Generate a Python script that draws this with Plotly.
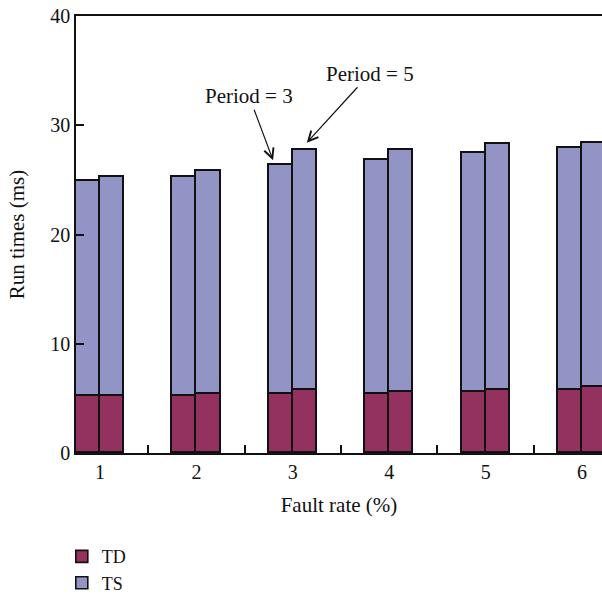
import plotly.graph_objects as go

fault_rates = [1, 2, 3, 4, 5, 6]
td_period3 = [5.2, 5.2, 5.4, 5.4, 5.6, 5.8]
ts_period3 = [19.7, 20.1, 21.0, 21.4, 21.9, 22.1]
td_period5 = [5.2, 5.4, 5.8, 5.6, 5.8, 6.0]
ts_period5 = [20.1, 20.4, 21.9, 22.1, 22.45, 22.4]
y_ticks = [0, 10, 20, 30, 40]

TD_COLOR = "#93325F"
TS_COLOR = "#9394C6"
FONT = "Liberation Serif"
BAR_W = 0.25

x_p3 = [c - BAR_W / 2 for c in fault_rates]
x_p5 = [c + BAR_W / 2 for c in fault_rates]

line = dict(color="#111111", width=1.6)
fig = go.Figure()
fig.add_trace(go.Bar(x=x_p3, y=td_period3, width=BAR_W, name="TD", legendgroup="TD",
                     marker=dict(color=TD_COLOR, line=line)))
fig.add_trace(go.Bar(x=x_p5, y=td_period5, width=BAR_W, name="TD", legendgroup="TD",
                     showlegend=False, marker=dict(color=TD_COLOR, line=line)))
fig.add_trace(go.Bar(x=x_p3, y=ts_period3, width=BAR_W, name="TS", legendgroup="TS",
                     marker=dict(color=TS_COLOR, line=line)))
fig.add_trace(go.Bar(x=x_p5, y=ts_period5, width=BAR_W, name="TS", legendgroup="TS",
                     showlegend=False, marker=dict(color=TS_COLOR, line=line)))

tot3 = td_period3[2] + ts_period3[2]
tot5 = td_period5[2] + ts_period5[2]
fig.add_annotation(x=x_p3[2] - 0.08, y=tot3 + 0.4, text="Period = 3", showarrow=True,
                   ax=-24, ay=-64, arrowhead=5, arrowsize=1.6, arrowwidth=1.2,
                   arrowcolor="#111111", font=dict(family=FONT, size=21, color="#111111"))
fig.add_annotation(x=x_p5[2] + 0.02, y=tot5 + 0.7, text="Period = 5", showarrow=True,
                   ax=63, ay=-69, arrowhead=5, arrowsize=1.6, arrowwidth=1.2,
                   arrowcolor="#111111", font=dict(family=FONT, size=21, color="#111111"))

fig.update_layout(
    width=602, height=594,
    margin=dict(l=76, r=0, t=16, b=141, autoexpand=False),
    barmode="stack",
    bargap=0,
    plot_bgcolor="white", paper_bgcolor="white",
    font=dict(family=FONT, size=20, color="#111111"),
    showlegend=True,
    legend=dict(x=-0.027, xanchor="left", y=-0.195, yanchor="top",
                font=dict(family=FONT, size=18), tracegroupgap=0,
                bgcolor="rgba(0,0,0,0)"),
    xaxis=dict(range=[0.751, 6.207], tickmode="array", tickvals=fault_rates,
               ticktext=[str(v) for v in fault_rates], ticks="", showgrid=False,
               showline=True, linecolor="#111111", linewidth=1.5, mirror=True,
               zeroline=False, tickfont=dict(family=FONT, size=20),
               minor=dict(tickmode="array", tickvals=[1.5, 2.5, 3.5, 4.5, 5.5],
                          ticks="inside", ticklen=8, tickwidth=1.5, tickcolor="#111111"),
               title=dict(text="Fault rate (%)", font=dict(family=FONT, size=21), standoff=16)),
    yaxis=dict(range=[0, 40], tickmode="array", tickvals=y_ticks, ticks="inside",
               ticklen=8, tickwidth=1.5, tickcolor="#111111", showgrid=False,
               showline=True, linecolor="#111111", linewidth=1.5, zeroline=False,
               tickfont=dict(family=FONT, size=20),
               title=dict(text="Run times (ms)", font=dict(family=FONT, size=21), standoff=20)),
)

fig.write_html("out.html")
